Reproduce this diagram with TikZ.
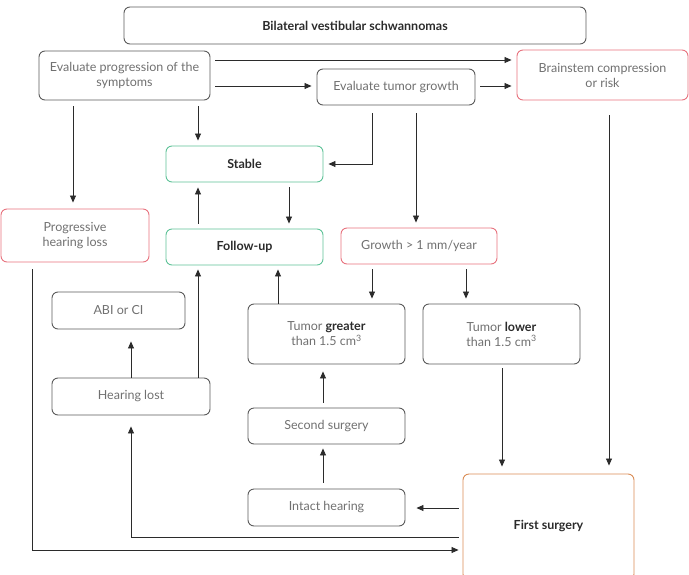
\documentclass[tikz,border=0pt]{standalone}
\usepackage{fontspec}
\setmainfont{Lato}
\usepackage{xcolor}
\usetikzlibrary{arrows.meta,positioning,calc}

\definecolor{boxgray}{HTML}{5A5A5A}
\definecolor{txtgray}{HTML}{707070}
\definecolor{txtdark}{HTML}{2B2B2B}
\definecolor{riskred}{HTML}{E7727E}
\definecolor{okgreen}{HTML}{5EC297}
\definecolor{surgorange}{HTML}{D98C55}

\begin{document}
\begin{tikzpicture}[x=1pt, y=-1pt,
    box/.style={draw=boxgray, rounded corners=6pt, line width=0.9pt, inner sep=0pt,
        align=center, text=txtgray, font=\fontsize{12.5}{15}\selectfont},
    redbox/.style={box, draw=riskred},
    greenbox/.style={box, draw=okgreen, text=txtdark, font=\fontsize{12.5}{15}\selectfont\bfseries},
    arr/.style={-{Triangle[length=7pt,width=6pt]}, draw=txtdark, line width=0.8pt,
        shorten <=5pt, shorten >=5pt}
]
\useasboundingbox (0,0) rectangle (689,574);

% Top row
\node[box, text=txtdark, font=\fontsize{12.5}{15}\selectfont\bfseries, minimum width=462, minimum height=37] (bvs) at (355,25.5) {Bilateral vestibular schwannomas};
\node[box, minimum width=171, minimum height=49] (evalprog) at (124.5,75.5) {Evaluate progression of the\\symptoms};
\node[box, minimum width=158, minimum height=36] (evaltumor) at (396,87) {Evaluate tumor growth};
\node[redbox, minimum width=171, minimum height=50] (brainstem) at (602.5,75) {Brainstem compression\\or risk};

% Middle
\node[greenbox, minimum width=157, minimum height=36] (stable) at (244.5,164) {Stable};
\node[redbox, minimum width=148, minimum height=53] (proghear) at (75,235.5) {Progressive\\hearing loss};
\node[greenbox, minimum width=157, minimum height=36] (followup) at (244.5,247) {Follow-up};
\node[redbox, minimum width=156, minimum height=36] (growth) at (419,246) {Growth > 1 mm/year};
\node[box, minimum width=133, minimum height=37] (abi) at (118.5,310.5) {ABI or CI};
\node[box, minimum width=157, minimum height=60] (tgreater) at (326.5,334) {Tumor \textcolor{txtdark}{\bfseries greater}\\than 1.5 cm\textsuperscript{3}};
\node[box, minimum width=157, minimum height=60] (tlower) at (501.5,334) {Tumor \textcolor{txtdark}{\bfseries lower}\\than 1.5 cm\textsuperscript{3}};

% Bottom
\node[box, minimum width=158, minimum height=37] (hlost) at (131,396.5) {Hearing lost};
\node[box, minimum width=157, minimum height=36] (second) at (326.5,426) {Second surgery};
\node[box, minimum width=157, minimum height=37] (intact) at (326.5,507.5) {Intact hearing};
\node[box, draw=surgorange, text=txtdark, font=\fontsize{12.5}{15}\selectfont\bfseries, minimum width=171, minimum height=106] (first) at (548.5,527) {\raisebox{4pt}{First surgery}};

% Arrows
\draw[arr] (evalprog.east |- 0,60) -- (brainstem.west |- 0,60);
\draw[arr] (evalprog.east |- 0,86) -- (evaltumor.west |- 0,86);
\draw[arr] (evaltumor.east |- 0,86) -- (brainstem.west |- 0,86);
\draw[arr, shorten <=6pt, shorten >=6pt] (evalprog.south -| 73,0) -- (proghear.north -| 73,0);
\draw[arr, shorten <=6pt] (evalprog.south -| 198,0) -- (stable.north -| 198,0);
\draw[arr, shorten <=8pt] (evaltumor.south -| 372,0) |- (stable.east);
\draw[arr, shorten <=8pt] (evaltumor.south -| 416,0) -- (growth.north -| 416,0);
\draw[arr, shorten <=15pt, shorten >=8pt] (brainstem.south -| 609,0) -- (first.north -| 609,0);
\draw[arr] (stable.south -| 289,0) -- (followup.north -| 289,0);
\draw[arr] (followup.north -| 198,0) -- (stable.south -| 198,0);
\draw[arr] (growth.south -| 372,0) -- (tgreater.north -| 372,0);
\draw[arr] (growth.south -| 466,0) -- (tlower.north -| 466,0);
\draw[arr, shorten <=0pt, shorten >=4pt] (tgreater.north -| 278,0) -- (followup.south -| 278,0);
\draw[arr, shorten <=0pt, shorten >=4pt] (hlost.north -| 198,0) -- (followup.south -| 198,0);
\draw[arr, shorten <=0pt, shorten >=12pt] (hlost.north -| 131,0) -- (abi.south -| 131,0);
\draw[arr, shorten >=7pt] (second.north -| 323,0) -- (tgreater.south -| 323,0);
\draw[arr, shorten <=6pt, shorten >=4pt] (intact.north -| 323,0) -- (second.south -| 323,0);
\draw[arr, shorten <=4pt, shorten >=11pt] (first.west |- 0,508) -- (intact.east |- 0,508);
\draw[arr, shorten <=4pt, shorten >=11pt] (first.west |- 0,537) -| (hlost.south);
\draw[arr, shorten <=7pt, shorten >=4pt] (proghear.south -| 32,0) |- (first.west |- 0,550);
\draw[arr, shorten <=4pt, shorten >=7pt] (tlower.south -| 502,0) -- (first.north -| 502,0);

\end{tikzpicture}
\end{document}
